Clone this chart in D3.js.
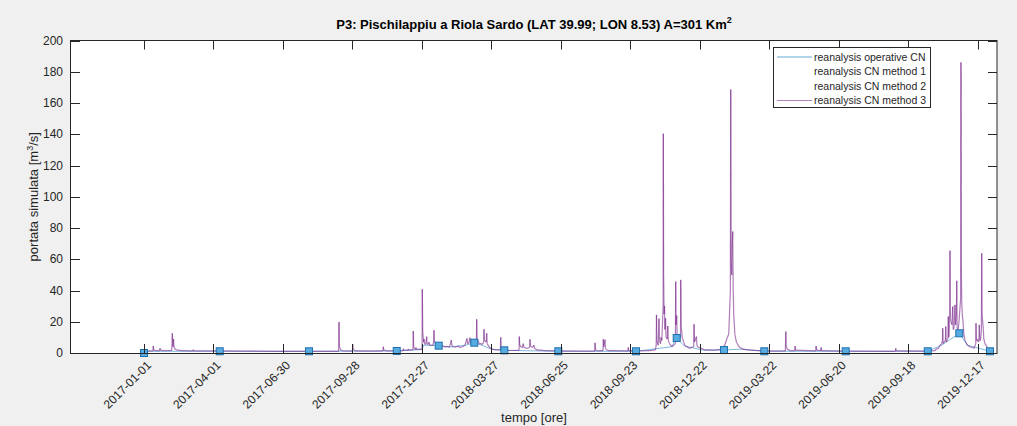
<!DOCTYPE html>
<html>
<head>
<meta charset="utf-8">
<script src="https://cdn.jsdelivr.net/npm/d3@7"></script>
<style>
  html, body { margin: 0; padding: 0; background: #f0f0f0; }
  svg { display: block; font-family: "Liberation Sans", Arial, sans-serif; }
</style>
</head>
<body>
<svg id="chart" width="1017" height="426"></svg>
<script>
// ---- data -------------------------------------------------------------
// time axis: hours since 2017-01-01 00:00
const xTickHours = [0, 2160, 4320, 6480, 8640, 10800, 12960, 15120, 17280, 19440, 21600, 23760, 25920];
const xTickLabels = ["2017-01-01", "2017-04-01", "2017-06-30", "2017-09-28", "2017-12-27", "2018-03-27",
                     "2018-06-25", "2018-09-23", "2018-12-22", "2019-03-22", "2019-06-20", "2019-09-18", "2019-12-17"];
const yTicks = [0, 20, 40, 60, 80, 100, 120, 140, 160, 180, 200];

const seriesNames = ["reanalysis operative CN", "reanalysis CN method 1", "reanalysis CN method 2", "reanalysis CN method 3"];

// reanalysis operative CN (hours, m3/s)
const operativeHours = [0, 150, 2354, 5130, 7857, 8640, 8700, 9162, 9500, 10000, 10269, 10500, 10800, 11202,
                        12881, 15297, 16400, 16562, 16800, 17400, 18032, 18600, 19285, 21816, 24366, 24800,
                        25348, 25600, 26302];
const operativeFlow  = [0, 1.1, 1.1, 1.1, 1.3, 2.2, 5, 4.7, 3.8, 5, 6.6, 5, 2.5, 1.7,
                        1.1, 1.1, 4, 9.6, 4.5, 1.8, 1.9, 2.5, 1.1, 1.1, 1.1, 5,
                        12.6, 5, 1.1];
// hours at which the operative series carries a marker
const operativeMarkerHours = [0, 2354, 5130, 7857, 9162, 10269, 11202, 12881, 15297, 16562, 18032, 19285,
                              21816, 24366, 25348, 26302];

// reanalysis CN method 3 (hours, m3/s)
const method3Hours = [
  0, 150, 280, 289, 300, 360, 490, 497, 510, 600, 860, 872, 880, 892, 905, 917, 930, 960, 1040, 1200,
  1525, 1533, 1545, 2000, 3000, 4000, 5000, 6050, 6063, 6075, 6120, 6200, 6480, 6489, 6500, 6560,
  7000, 7430, 7440, 7452, 7520, 7900, 8055, 8062, 8075, 8210, 8217, 8230, 8365, 8372, 8384, 8440,
  8457, 8470, 8645, 8653, 8665, 8690, 8705, 8720, 8760, 8789, 8800, 8840, 8861, 8880, 8990, 9005,
  9016, 9030, 9078, 9120, 9171, 9230, 9300, 9358, 9420, 9500, 9554, 9570, 9607, 9700, 9760, 9824,
  9900, 9980, 10041, 10060, 10100, 10135, 10160, 10230, 10269, 10300, 10335, 10343, 10355, 10384,
  10420, 10477, 10520, 10560, 10570, 10585, 10640, 10654, 10670, 10695, 10750, 10810, 10913, 11080,
  11090, 11105, 11130, 11223, 11400, 11660, 11668, 11680, 11720, 11760, 11792, 11810, 11900, 11990,
  12000, 12015, 12080, 12125, 12140, 12218, 12467, 12881, 13500, 14015, 14022, 14035, 14100, 14270,
  14280, 14295, 14333, 14345, 14420, 15050, 15057, 15070, 15306, 15732, 15900, 15925, 15934, 15945,
  15985, 16012, 16025, 16060, 16074, 16100, 16140, 16146, 16155, 16170, 16183, 16195, 16214, 16230,
  16270, 16283, 16300, 16339, 16416, 16520, 16531, 16540, 16562, 16575, 16636, 16680, 16687, 16700,
  16733, 16811, 16950, 17090, 17100, 17115, 17175, 17190, 17215, 17433, 17744, 17961, 18055, 18126,
  18179, 18230, 18241, 18255, 18272, 18290, 18303, 18318, 18334, 18370, 18418, 18500, 18600, 18800,
  19289, 19940, 19954, 19965, 19995, 20100, 20235, 20243, 20255, 20885, 20896, 20910, 21045, 21052,
  21065, 21816, 23360, 23371, 23385, 24366, 24600, 24623, 24700, 24748, 24800, 24825, 24832, 24845,
  24872, 24915, 24925, 24940, 24965, 24995, 25006, 25018, 25028, 25050, 25059, 25070, 25090, 25120,
  25143, 25160, 25183, 25214, 25230, 25260, 25267, 25280, 25307, 25338, 25390, 25400, 25410, 25422,
  25440, 25463, 25490, 25525, 25600, 25681, 25805, 25860, 25867, 25880, 25908, 25940, 25960, 25970,
  25985, 26007, 26035, 26044, 26055, 26093, 26110, 26146, 26239, 26301
];
const method3Flow = [
  1.3, 1.3, 1.4, 4.5, 2.0, 1.5, 1.5, 3.0, 1.8, 1.5, 1.6, 6, 12.6, 5, 4, 9, 4, 2.5, 1.8, 1.5,
  1.4, 2.2, 1.4, 1.3, 1.2, 1.1, 1.1, 1.1, 19.9, 4, 1.8, 1.3, 1.3, 5.8, 2.5, 1.4,
  1.2, 1.3, 4.0, 2, 1.4, 1.3, 1.5, 2.8, 1.8, 1.8, 2.6, 1.9, 2.0, 14.1, 4, 2.2,
  3.5, 2.3, 2.5, 40.8, 14, 7, 9, 6, 5.5, 10.5, 6, 5.5, 7, 5, 5, 8,
  14.5, 7, 5.5, 5, 4.7, 4, 4.5, 3.8, 4.2, 3.8, 8.3, 5, 4, 3.8, 4.5, 3.5,
  4, 5, 9.4, 6, 6.5, 9.8, 6, 5.5, 6.9, 6, 8, 21.6, 9, 8,
  6, 6, 5.5, 7, 15.2, 8, 7, 12.6, 6, 5, 3.5, 2.5, 2, 2,
  10, 4, 3, 1.7, 1.6, 1.7, 10.5, 5, 4, 3.5, 6, 3.5, 3, 3.5,
  8.8, 4.5, 3.5, 5, 3, 2, 1.5, 1.3, 1.2, 1.2, 6.6, 2, 1.4, 1.5,
  8.8, 4, 8.5, 3, 1.5, 1.3, 3.6, 1.5, 1.3, 1.5, 2, 5, 24.4, 8,
  5, 22, 8, 6, 10, 8, 30, 140.4, 50, 25, 30, 15, 22.2, 10,
  9, 17.3, 8, 6, 4, 6, 45.7, 18, 24, 10, 8, 10, 46.8, 18,
  10, 5, 3, 4, 18.4, 7, 10.5, 5, 4, 2, 1.8, 2.5, 5, 9.4,
  12, 40, 168.6, 60, 50, 70, 77.8, 40, 25, 12, 7, 4, 2.5, 1.8,
  1.3, 1.3, 13.7, 4, 2.5, 1.5, 1.5, 4.5, 1.8, 1.3, 4.5, 1.8, 1.5, 3.6,
  1.5, 1.2, 1.1, 3, 1.3, 1.2, 1.5, 2.5, 3, 5, 6, 8, 15.8, 6,
  7, 8, 16.9, 7, 8, 10, 23.3, 10, 12, 25, 65.4, 22, 20, 18,
  29.7, 15, 16, 30.8, 18, 25, 46.3, 16, 14, 20, 35, 186, 60, 32.9,
  25, 20, 12, 8, 5, 4, 3, 6, 19, 8, 8.8, 7, 9, 18,
  8, 8, 15, 63.9, 25, 15.8, 9, 6, 3, 1.5
];

// ---- layout -----------------------------------------------------------
const svg = d3.select("#chart");
const box = { left: 71, right: 997, top: 40.5, bottom: 353 };
const tickLen = 9;
const axisColor = "#262626";
const blue = "#0072BD";
const purple = "#7E2F8E";

const x = d3.scaleLinear().domain([-2270, 26520]).range([box.left, box.right]);
const y = d3.scaleLinear().domain([0, 200]).range([box.bottom, box.top]);

// plotting area
svg.append("rect")
  .attr("x", box.left).attr("y", box.top)
  .attr("width", box.right - box.left).attr("height", box.bottom - box.top)
  .attr("fill", "#ffffff");

svg.append("clipPath").attr("id", "plotClip")
  .append("rect")
  .attr("x", box.left).attr("y", box.top - 1)
  .attr("width", box.right - box.left).attr("height", box.bottom - box.top + 6);

const plot = svg.append("g").attr("clip-path", "url(#plotClip)");

// operative CN line (drawn first, underneath)
const operative = operativeHours.map((h, i) => ({ h, v: operativeFlow[i] }));
const line = d3.line().x(d => x(d.h)).y(d => y(d.v));
plot.append("path")
  .datum(operative)
  .attr("d", line)
  .attr("fill", "none")
  .attr("stroke", blue)
  .attr("stroke-opacity", 0.5)
  .attr("stroke-width", 1);

// method 3: semi-transparent segments so that overlapping strokes darken
const m3 = method3Hours.map((h, i) => ({ h, v: method3Flow[i] }));
plot.append("g")
  .selectAll("line")
  .data(d3.pairs(m3))
  .join("line")
  .attr("x1", d => x(d[0].h)).attr("y1", d => y(d[0].v))
  .attr("x2", d => x(d[1].h)).attr("y2", d => y(d[1].v))
  .attr("stroke", purple)
  .attr("stroke-opacity", 0.62)
  .attr("stroke-width", 1.2);

// operative markers
const markerData = operativeMarkerHours.map(h => ({ h, v: operativeFlow[operativeHours.indexOf(h)] }));
plot.append("g")
  .selectAll("rect")
  .data(markerData)
  .join("rect")
  .attr("x", d => x(d.h) - 3.5).attr("y", d => y(d.v) - 3.5)
  .attr("width", 7).attr("height", 7)
  .attr("fill", "#56ACE0")
  .attr("stroke", "#1F6FAE")
  .attr("stroke-width", 1);

// ---- axes (box with inward ticks on all four sides) ---------------------
const axes = svg.append("g").attr("stroke", axisColor).attr("stroke-width", 1).attr("fill", "none");
axes.append("rect")
  .attr("x", box.left - 0.5).attr("y", box.top)
  .attr("width", box.right - box.left + 0.5).attr("height", box.bottom - box.top + 0.5);

xTickHours.forEach(h => {
  const px = Math.round(x(h)) + 0.5;
  axes.append("line").attr("x1", px).attr("x2", px).attr("y1", box.bottom).attr("y2", box.bottom - tickLen);
  axes.append("line").attr("x1", px).attr("x2", px).attr("y1", box.top).attr("y2", box.top + tickLen);
});
yTicks.forEach(v => {
  const py = Math.round(y(v)) + 0.5;
  axes.append("line").attr("x1", box.left).attr("x2", box.left + tickLen).attr("y1", py).attr("y2", py);
  axes.append("line").attr("x1", box.right).attr("x2", box.right - tickLen).attr("y1", py).attr("y2", py);
});

// tick labels
svg.append("g")
  .selectAll("text")
  .data(yTicks)
  .join("text")
  .attr("x", box.left - 8)
  .attr("y", d => y(d))
  .attr("dy", "0.35em")
  .attr("text-anchor", "end")
  .attr("font-size", 12)
  .attr("fill", axisColor)
  .text(d => d);

svg.append("g")
  .selectAll("text")
  .data(xTickHours)
  .join("text")
  .attr("transform", d => `translate(${x(d) + 5},${box.bottom + 10}) rotate(-45)`)
  .attr("dy", "0.35em")
  .attr("text-anchor", "end")
  .attr("font-size", 12)
  .attr("fill", axisColor)
  .text((d, i) => xTickLabels[i]);

// axis titles
const yLabel = svg.append("text")
  .attr("transform", `translate(37.5,${(box.top + box.bottom) / 2}) rotate(-90)`)
  .attr("text-anchor", "middle")
  .attr("font-size", 13)
  .attr("fill", axisColor);
yLabel.append("tspan").text("portata simulata [m");
yLabel.append("tspan").attr("font-size", 9).attr("dy", -5).text("3");
yLabel.append("tspan").attr("dy", 5).text("/s]");

svg.append("text")
  .attr("x", (box.left + box.right) / 2)
  .attr("y", 422)
  .attr("text-anchor", "middle")
  .attr("font-size", 13)
  .attr("fill", axisColor)
  .text("tempo [ore]");

// chart title
const title = svg.append("text")
  .attr("x", (box.left + box.right) / 2)
  .attr("y", 28.5)
  .attr("text-anchor", "middle")
  .attr("font-size", 13)
  .attr("font-weight", "bold")
  .attr("fill", "#000");
title.append("tspan").text("P3: Pischilappiu a Riola Sardo (LAT 39.99; LON 8.53) A=301 Km");
title.append("tspan").attr("font-size", 9).attr("dy", -6).text("2");

// ---- legend -----------------------------------------------------------
const legend = svg.append("g");
legend.append("rect")
  .attr("x", 773.5).attr("y", 47.5)
  .attr("width", 157).attr("height", 60)
  .attr("fill", "#ffffff")
  .attr("stroke", axisColor)
  .attr("stroke-width", 1);

const legendColors = [blue, null, null, purple];
const rowY = d3.scalePoint().domain(seriesNames).range([57, 100.5]);
seriesNames.forEach((name, i) => {
  const yy = rowY(name);
  if (legendColors[i]) {
    legend.append("line")
      .attr("x1", 777).attr("x2", 812)
      .attr("y1", yy).attr("y2", yy)
      .attr("stroke", legendColors[i])
      .attr("stroke-opacity", 0.6)
      .attr("stroke-width", 1);
  }
  legend.append("text")
    .attr("x", 814)
    .attr("y", yy)
    .attr("dy", "0.35em")
    .attr("font-size", 10.5)
    .attr("fill", axisColor)
    .text(name);
});
</script>
</body>
</html>
